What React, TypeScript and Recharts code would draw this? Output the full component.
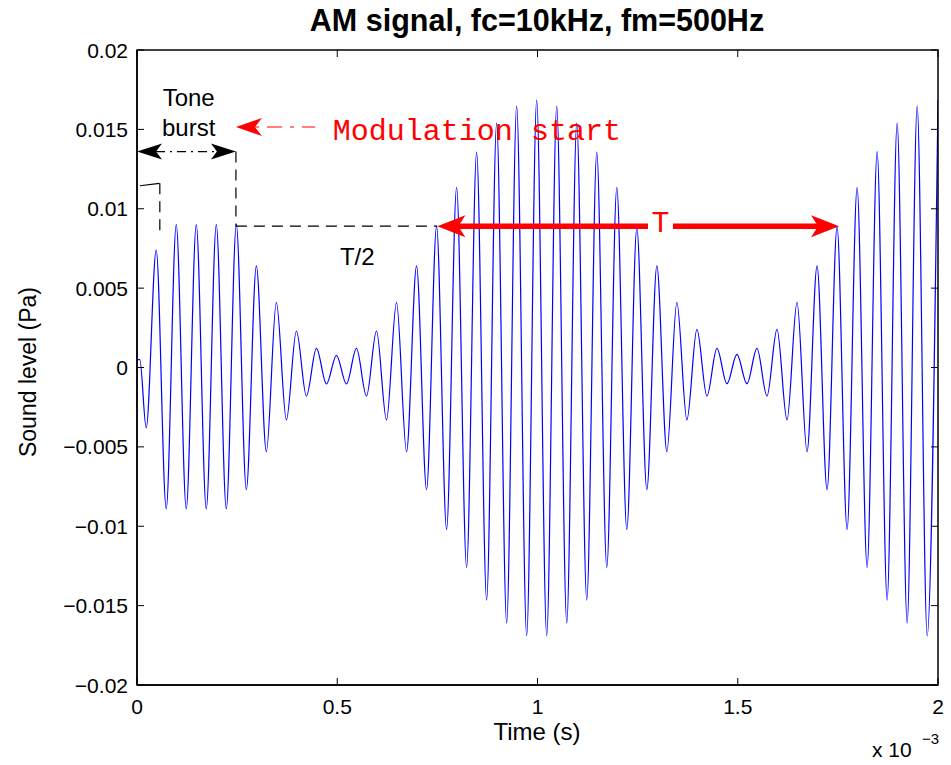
import React from 'react';
import { LineChart, Line, XAxis, YAxis, ReferenceLine, ReferenceDot } from 'recharts';

// ---- data ----
// time in units of 1e-3 s (ms), as shown by the "x 10^-3" axis multiplier
const sampleTimesMs = [
  0, 0.007,
  0.023, 0.048, 0.073, 0.098, 0.123, 0.148, 0.173, 0.198, 0.223, 0.248,
  0.273, 0.298, 0.323, 0.348, 0.373, 0.398, 0.423, 0.448, 0.473, 0.498,
  0.523, 0.548, 0.573, 0.598, 0.623, 0.648, 0.673, 0.698, 0.723, 0.748,
  0.773, 0.798, 0.823, 0.848, 0.873, 0.898, 0.923, 0.948, 0.973, 0.998,
  1.023, 1.048, 1.073, 1.098, 1.123, 1.148, 1.173, 1.198, 1.223, 1.248,
  1.273, 1.298, 1.323, 1.348, 1.373, 1.398, 1.423, 1.448, 1.473, 1.498,
  1.523, 1.548, 1.573, 1.598, 1.623, 1.648, 1.673, 1.698, 1.723, 1.748,
  1.773, 1.798, 1.823, 1.848, 1.873, 1.898, 1.923, 1.948, 1.973, 2.0,
];
const soundLevelsPa = [
  0.0005, 0.0005,
  -0.0038, 0.0074, -0.0089, 0.009, -0.0089, 0.009, -0.0089, 0.009, -0.0089, 0.009,
  -0.0077, 0.0064, -0.0053, 0.0041, -0.0033, 0.0023, -0.0018, 0.0012, -0.00104, 0.00077,
  -0.00104, 0.0012, -0.0018, 0.0023, -0.0033, 0.0041, -0.0053, 0.0064, -0.0077, 0.0089,
  -0.0102, 0.01135, -0.0126, 0.01357, -0.01465, 0.0154, -0.0161, 0.01647, -0.0169, 0.01685,
  -0.0169, 0.01647, -0.0161, 0.0154, -0.01465, 0.01357, -0.0126, 0.01135, -0.0102, 0.0088,
  -0.0077, 0.0064, -0.0053, 0.0041, -0.0033, 0.0024, -0.0018, 0.0012, -0.00102, 0.00083,
  -0.00102, 0.0012, -0.0018, 0.0024, -0.0033, 0.0041, -0.0053, 0.0064, -0.0077, 0.00887,
  -0.0102, 0.01135, -0.0126, 0.0136, -0.01465, 0.0154, -0.0161, 0.01647, -0.0169, 0.01685,
];
const xTicks = [0, 0.5, 1, 1.5, 2];
const xTickLabels = ['0', '0.5', '1', '1.5', '2'];
const yTicks = [0.02, 0.015, 0.01, 0.005, 0, -0.005, -0.01, -0.015, -0.02];
const yTickLabels = ['0.02', '0.015', '0.01', '0.005', '0', '\u22120.005', '\u22120.01', '\u22120.015', '\u22120.02'];

const chartData = sampleTimesMs.map((t, i) => ({ t, level: soundLevelsPa[i] }));

// ---- layout ----
const W = 951;
const H = 765;
const PLOT_LEFT = 137;
const PLOT_TOP = 50;
const PLOT_RIGHT = 938;
const PLOT_BOTTOM = 685;
const X_DOMAIN = [0, 2];
const Y_DOMAIN = [-0.02, 0.02];
const TICK = 7;
const SANS = '"Liberation Sans", Arial, Helvetica, sans-serif';
const MONO = '"Liberation Mono", "Courier New", monospace';

// frame tick positions (same linear mapping as the chart's axes)
const tickX = (v: number) => PLOT_LEFT + ((v - X_DOMAIN[0]) / (X_DOMAIN[1] - X_DOMAIN[0])) * (PLOT_RIGHT - PLOT_LEFT);
const tickY = (v: number) => PLOT_BOTTOM - ((v - Y_DOMAIN[0]) / (Y_DOMAIN[1] - Y_DOMAIN[0])) * (PLOT_BOTTOM - PLOT_TOP);

const XTick = (props: any) => {
  const { x, y, payload } = props;
  const i = xTicks.indexOf(payload.value);
  return (
    <text x={x} y={y + 29} textAnchor="middle" fontFamily={SANS} fontSize={21} fill="#000">
      {xTickLabels[i]}
    </text>
  );
};

const YTick = (props: any) => {
  const { x, y, payload } = props;
  const i = yTicks.indexOf(payload.value);
  return (
    <text x={x - 9} y={y} dy="0.36em" textAnchor="end" fontFamily={SANS} fontSize={21} fill="#000">
      {yTickLabels[i]}
    </text>
  );
};

type ArrowOpts = {
  color: string;
  width: number;
  dash?: string;
  headStart?: boolean;
  headEnd?: boolean;
  len?: number;
  half?: number;
  notch?: number;
};

const arrowShape = (o: ArrowOpts) => (p: any) => {
  const { x1, y1, x2, y2 } = p;
  const len = o.len ?? 0;
  const half = o.half ?? 0;
  const notch = o.notch ?? 0;
  const dx = x2 - x1;
  const dy = y2 - y1;
  const L = Math.hypot(dx, dy) || 1;
  const ux = dx / L;
  const uy = dy / L;
  const inset = len - notch;
  const sx = o.headStart ? x1 + ux * inset : x1;
  const sy = o.headStart ? y1 + uy * inset : y1;
  const ex = o.headEnd ? x2 - ux * inset : x2;
  const ey = o.headEnd ? y2 - uy * inset : y2;
  const head = (tx: number, ty: number, dx0: number, dy0: number) => {
    const bx = tx - dx0 * len;
    const by = ty - dy0 * len;
    const nx = -dy0;
    const ny = dx0;
    const mx = tx - dx0 * (len - notch);
    const my = ty - dy0 * (len - notch);
    return `${tx},${ty} ${bx + nx * half},${by + ny * half} ${mx},${my} ${bx - nx * half},${by - ny * half}`;
  };
  return (
    <g>
      <line x1={sx} y1={sy} x2={ex} y2={ey} stroke={o.color} strokeWidth={o.width} strokeDasharray={o.dash} />
      {o.headStart ? <polygon points={head(x1, y1, -ux, -uy)} fill={o.color} /> : null}
      {o.headEnd ? <polygon points={head(x2, y2, ux, uy)} fill={o.color} /> : null}
    </g>
  );
};

const textShape = (label: string, opts: { font: string; size: number; color: string; anchor: string }) => (p: any) => (
  <text x={p.cx} y={p.cy} dy="0.35em" textAnchor={opts.anchor} fontFamily={opts.font} fontSize={opts.size} fill={opts.color}>
    {label}
  </text>
);

export default function App() {
  return (
    <div style={{ position: 'absolute', left: 0, top: 0, width: W, height: H, background: '#fff' }}>
      <LineChart
        width={W}
        height={H}
        data={chartData}
        margin={{ top: PLOT_TOP, right: W - PLOT_RIGHT, bottom: 0, left: 0 }}
      >
        <XAxis
          dataKey="t"
          type="number"
          domain={X_DOMAIN}
          ticks={xTicks}
          interval={0}
          height={H - PLOT_BOTTOM}
          tickLine={false}
          axisLine={{ stroke: '#000', strokeWidth: 1.5 }}
          tickSize={0}
          tickMargin={0}
          tick={(p: any) => <XTick {...p} />}
          allowDataOverflow
        />
        <YAxis
          type="number"
          domain={Y_DOMAIN}
          ticks={yTicks}
          interval={0}
          width={PLOT_LEFT}
          tickLine={false}
          axisLine={{ stroke: '#000', strokeWidth: 1.5 }}
          tickSize={0}
          tickMargin={0}
          tick={(p: any) => <YTick {...p} />}
          allowDataOverflow
        />
        <Line
          type="monotone"
          dataKey="level"
          stroke="#0000ff"
          strokeWidth={1.2}
          dot={false}
          activeDot={false}
          isAnimationActive={false}
        />
        {/* black tone-burst annotations */}
        <ReferenceLine
          segment={[{ x: 0, y: 0.0136 }, { x: 0.247, y: 0.0136 }]}
          shape={arrowShape({ color: '#000', width: 1.2, dash: '9 5 2 5', headStart: true, headEnd: true, len: 25, half: 8, notch: 6 })}
        />
        <ReferenceLine
          segment={[{ x: 0.247, y: 0.0136 }, { x: 0.247, y: 0.0089 }]}
          shape={arrowShape({ color: '#000', width: 1.2, dash: '11 7' })}
        />
        <ReferenceLine
          segment={[{ x: 0.247, y: 0.0089 }, { x: 0.75, y: 0.0089 }]}
          shape={arrowShape({ color: '#000', width: 1.2, dash: '11 7' })}
        />
        <ReferenceLine
          segment={[{ x: 0.0075, y: 0.01145 }, { x: 0.056, y: 0.0116 }]}
          shape={arrowShape({ color: '#000', width: 1.2 })}
        />
        <ReferenceLine
          segment={[{ x: 0.057, y: 0.0116 }, { x: 0.057, y: 0.0084 }]}
          shape={arrowShape({ color: '#000', width: 1.2, dash: '11 7' })}
        />
        {/* red modulation-start arrow */}
        <ReferenceLine
          segment={[{ x: 0.247, y: 0.01515 }, { x: 0.445, y: 0.01515 }]}
          shape={arrowShape({ color: '#ff0000', width: 1.2, dash: '4 8 15 8', headStart: true, len: 26, half: 9, notch: 7 })}
        />
        {/* red period arrow T */}
        <ReferenceLine
          segment={[{ x: 0.75, y: 0.0089 }, { x: 1.276, y: 0.0089 }]}
          shape={arrowShape({ color: '#ff0000', width: 5.5, headStart: true, len: 28, half: 11, notch: 7 })}
        />
        <ReferenceLine
          segment={[{ x: 1.3383, y: 0.0089 }, { x: 1.753, y: 0.0089 }]}
          shape={arrowShape({ color: '#ff0000', width: 5.5, headEnd: true, len: 28, half: 11, notch: 7 })}
        />
        <ReferenceDot x={0.129} y={0.0170} shape={textShape('Tone', { font: SANS, size: 24, color: '#000', anchor: 'middle' })} />
        <ReferenceDot x={0.129} y={0.0151} shape={textShape('burst', { font: SANS, size: 24, color: '#000', anchor: 'middle' })} />
        <ReferenceDot x={0.55} y={0.0070} shape={textShape('T/2', { font: SANS, size: 24, color: '#000', anchor: 'middle' })} />
        <ReferenceDot x={0.489} y={0.0150} shape={textShape('Modulation start', { font: MONO, size: 30, color: '#ff0000', anchor: 'start' })} />
        <ReferenceDot x={1.307} y={0.0092} shape={textShape('T', { font: MONO, size: 30, color: '#ff0000', anchor: 'middle' })} />
      </LineChart>
      <svg width={W} height={H} style={{ position: 'absolute', left: 0, top: 0, pointerEvents: 'none' }}>
        {/* axes frame with inward ticks on all four sides */}
        <rect
          x={PLOT_LEFT}
          y={PLOT_TOP}
          width={PLOT_RIGHT - PLOT_LEFT}
          height={PLOT_BOTTOM - PLOT_TOP}
          fill="none"
          stroke="#000"
          strokeWidth={1.5}
        />
        {xTicks.map((v) => (
          <g key={`xt${v}`}>
            <line x1={tickX(v)} x2={tickX(v)} y1={PLOT_BOTTOM} y2={PLOT_BOTTOM - TICK} stroke="#000" strokeWidth={1} />
            <line x1={tickX(v)} x2={tickX(v)} y1={PLOT_TOP} y2={PLOT_TOP + TICK} stroke="#000" strokeWidth={1} />
          </g>
        ))}
        {yTicks.map((v) => (
          <g key={`yt${v}`}>
            <line x1={PLOT_LEFT} x2={PLOT_LEFT + TICK} y1={tickY(v)} y2={tickY(v)} stroke="#000" strokeWidth={1} />
            <line x1={PLOT_RIGHT} x2={PLOT_RIGHT - TICK} y1={tickY(v)} y2={tickY(v)} stroke="#000" strokeWidth={1} />
          </g>
        ))}
        <text x={537} y={31} textAnchor="middle" fontFamily={SANS} fontSize={30.5} fontWeight="bold" fill="#000">
          AM signal, fc=10kHz, fm=500Hz
        </text>
        <text x={537} y={740} textAnchor="middle" fontFamily={SANS} fontSize={24} fill="#000">
          Time (s)
        </text>
        <text transform="translate(36,372) rotate(-90)" x={0} y={0} textAnchor="middle" fontFamily={SANS} fontSize={23} fill="#000">
          Sound level (Pa)
        </text>
        <text x={872} y={757} fontFamily={SANS} fontSize={21} fill="#000">
          x 10
        </text>
        <text x={922} y={744} fontFamily={SANS} fontSize={15} fill="#000">
          {'\u22123'}
        </text>
      </svg>
    </div>
  );
}
